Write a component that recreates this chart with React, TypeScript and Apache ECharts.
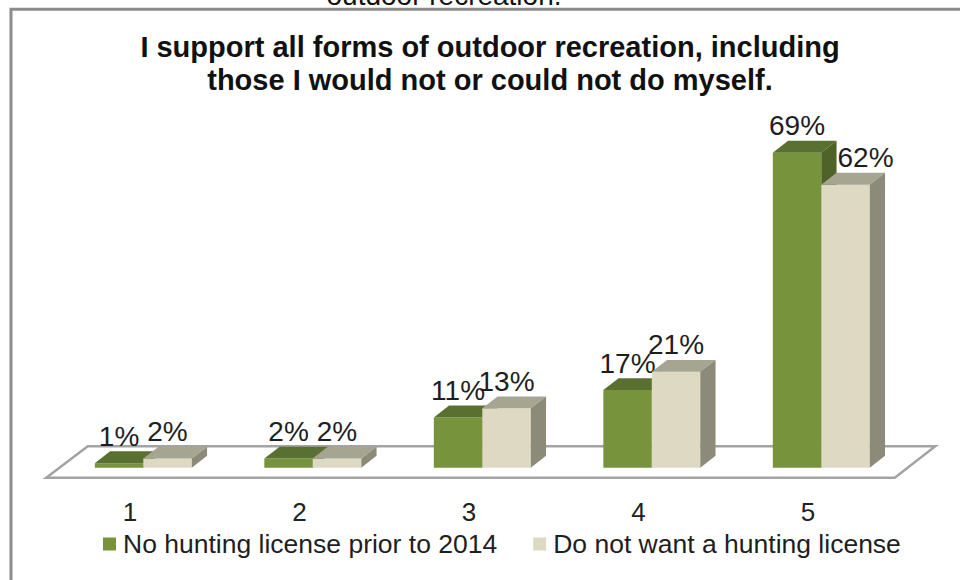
import React, { useEffect, useRef } from "react";
import * as echarts from "echarts";

const categories = ["1", "2", "3", "4", "5"];
const noLicense = [1, 2, 11, 17, 69];
const doNotWant = [2, 2, 13, 21, 62];
const seriesNames = ["No hunting license prior to 2014", "Do not want a hunting license"];
const titleLines = [
  "I support all forms of outdoor recreation, including",
  "those I would not or could not do myself.",
];
const cutText = "outdoor recreation.";

const FONT = "'Liberation Sans', Arial, sans-serif";

const palettes = [
  { front: "#77933c", top: "#5a7030", side: "#4f6228" },
  { front: "#ddd9c3", top: "#a6a592", side: "#8c8b79" },
];

function makeRender(si: number) {
  return (params: any, api: any) => {
    const cat = api.value(0);
    const v = api.value(1);
    const [cx, y0] = api.coord([cat, 0]);
    const [, y1] = api.coord([cat, v]);
    const band = api.size([1, 0])[0];
    const bw = band * 0.286;
    const pairCenter = cx + band * 0.0785;
    const x0 = si === 0 ? pairCenter - bw : pairCenter;
    const x1 = x0 + bw;
    const dx = band * 0.09;
    const dy = band * 0.07;
    const p = palettes[si];
    const nudge = si === 1 && params.dataIndex === 4 ? 20 : 0;
    return {
      type: "group",
      children: [
        {
          type: "rect",
          shape: { x: x0, y: y1, width: bw, height: y0 - y1 },
          style: { fill: p.front },
        },
        {
          type: "polygon",
          shape: { points: [[x0, y1], [x0 + dx, y1 - dy], [x1 + dx, y1 - dy], [x1, y1]] },
          style: { fill: p.top },
        },
        {
          type: "polygon",
          shape: { points: [[x1, y1], [x1 + dx, y1 - dy], [x1 + dx, y0 - dy], [x1, y0]] },
          style: { fill: p.side },
        },
        {
          type: "text",
          z2: 100,
          style: {
            x: (x0 + x1) / 2 + nudge,
            y: y1 - dy - 1,
            text: v + "%",
            align: "center",
            verticalAlign: "bottom",
            fontSize: 28,
            fontFamily: FONT,
            fill: "#1e1e1e",
          },
        },
      ],
    };
  };
}

function floorRender(params: any, api: any) {
  const cs = params.coordSys;
  const [, y0] = api.coord([0, 0]);
  const band = api.size([1, 0])[0];
  const depthX = band * 0.245;
  const fy = y0 + 10;
  const by = y0 - 21.5;
  const fl = cs.x + 1;
  const fr = cs.x + cs.width + 2;
  return {
    type: "polygon",
    shape: {
      points: [
        [fl, fy],
        [fl + depthX, by],
        [fr + depthX - 1, by],
        [fr, fy],
      ],
    },
    style: { fill: "#ffffff", stroke: "#a3a3a3", lineWidth: 2.5 },
  };
}

export default function App() {
  const ref = useRef<HTMLDivElement>(null);
  useEffect(() => {
    if (!ref.current) return;
    const chart = echarts.init(ref.current, undefined, { renderer: "svg" });
    chart.setOption({
      animation: false,
      backgroundColor: "#ffffff",
      title: {
        text: titleLines.join("\n"),
        left: 490,
        textAlign: "center",
        top: 30,
        padding: 0,
        textStyle: {
          fontFamily: FONT,
          fontWeight: "bold",
          fontSize: 29,
          lineHeight: 33,
          color: "#111",
        },
      },
      grid: { left: 45.25, right: 67.25, top: 102.5, bottom: 112.3 },
      xAxis: {
        type: "category",
        data: categories,
        axisLine: { show: false },
        axisTick: { show: false },
        axisLabel: {
          margin: 31,
          fontSize: 26,
          fontFamily: FONT,
          color: "#222",
        },
      },
      yAxis: {
        type: "value",
        min: 0,
        max: 80,
        show: false,
        splitLine: { show: false },
      },
      legend: {
        data: seriesNames,
        left: 103,
        top: 530,
        padding: 0,
        icon: "rect",
        itemWidth: 13,
        itemHeight: 13,
        itemGap: 36,
        textStyle: { fontFamily: FONT, fontSize: 26.5, color: "#1e1e1e", lineHeight: 28, padding: [0, 0, 0, 2] },
      },
      graphic: [
        {
          type: "rect",
          shape: { x: 11, y: 9.3, width: 1000, height: 700 },
          style: { fill: "none", stroke: "#8c8c8c", lineWidth: 3 },
          silent: true,
        },
        {
          type: "text",
          x: 444,
          y: 9,
          style: {
            text: cutText,
            align: "center",
            verticalAlign: "bottom",
            fontSize: 28,
            fontFamily: FONT,
            fill: "#111",
          },
        },
      ],
      series: [
        {
          type: "custom",
          name: "floor",
          renderItem: floorRender,
          data: [[0, 0]],
          z: 1,
          silent: true,
        },
        {
          type: "custom",
          name: seriesNames[0],
          renderItem: makeRender(0),
          itemStyle: { color: palettes[0].front },
          data: noLicense.map((v, i) => [i, v]),
          encode: { x: 0, y: 1 },
          z: 2,
        },
        {
          type: "custom",
          name: seriesNames[1],
          renderItem: makeRender(1),
          itemStyle: { color: palettes[1].front },
          data: doNotWant.map((v, i) => [i, v]),
          encode: { x: 0, y: 1 },
          z: 3,
        },
      ],
    });
    return () => chart.dispose();
  }, []);
  return (
    <div
      ref={ref}
      style={{ position: "fixed", left: 0, top: 0, width: 960, height: 580 }}
    />
  );
}
